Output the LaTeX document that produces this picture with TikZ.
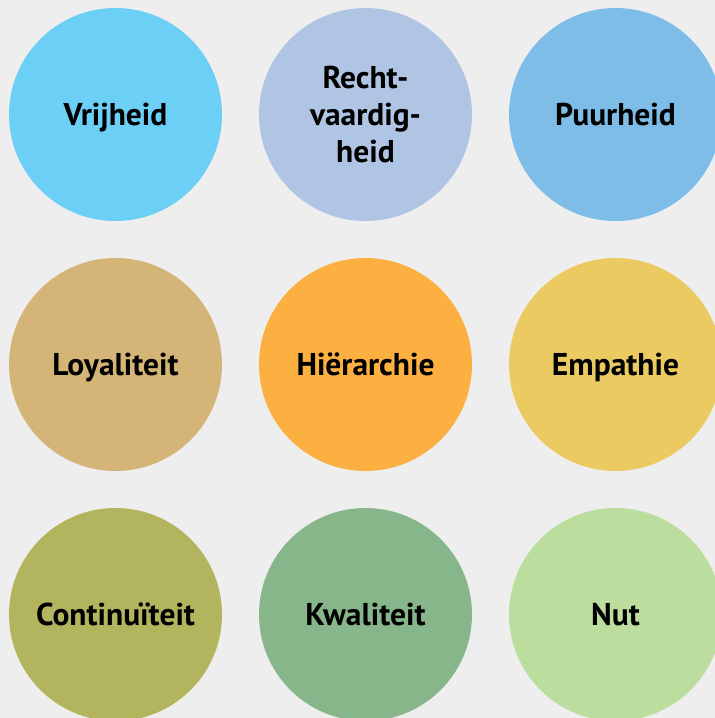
\documentclass[tikz,border=0pt]{standalone}
\usepackage{fontspec}
\setmainfont{PT Sans}
\definecolor{bg}{HTML}{EEEEEE}
\definecolor{c1}{HTML}{6CCFF6}
\definecolor{c2}{HTML}{B0C5E3}
\definecolor{c3}{HTML}{7DBDE8}
\definecolor{c4}{HTML}{D4B477}
\definecolor{c5}{HTML}{FBB041}
\definecolor{c6}{HTML}{EBCA62}
\definecolor{c7}{HTML}{B3B55E}
\definecolor{c8}{HTML}{86B68A}
\definecolor{c9}{HTML}{BBDD9E}
\begin{document}
\begin{tikzpicture}[x=1pt,y=-1pt,
  val/.style={circle,draw=none,minimum size=213pt,inner sep=0pt,align=center,
    text depth=-3pt,
    font=\fontsize{31.5}{37}\selectfont\bfseries,text=black}]
\fill[bg] (0,0) rectangle (715,718);
\useasboundingbox (0,0) rectangle (715,718);
\begin{scope}
\clip (0,0) rectangle (715,718);
\node[val,fill=c1] (n1) at (115.5,114.5) {Vrijheid};
\node[val,fill=c2] (n2) at (365.5,114.5) {Recht-\\vaardig-\\heid};
\node[val,fill=c3] (n3) at (615.5,114.5) {Puurheid};
\node[val,fill=c4] (n4) at (115.5,364.5) {Loyaliteit};
\node[val,fill=c5] (n5) at (365.5,364.5) {Hiërarchie};
\node[val,fill=c6] (n6) at (615.5,364.5) {Empathie};
\node[val,fill=c7] (n7) at (115.5,614.5) {Continuïteit};
\node[val,fill=c8] (n8) at (365.5,614.5) {Kwaliteit};
\node[val,fill=c9] (n9) at (615.5,614.5) {Nut};
\end{scope}
\end{tikzpicture}
\end{document}
